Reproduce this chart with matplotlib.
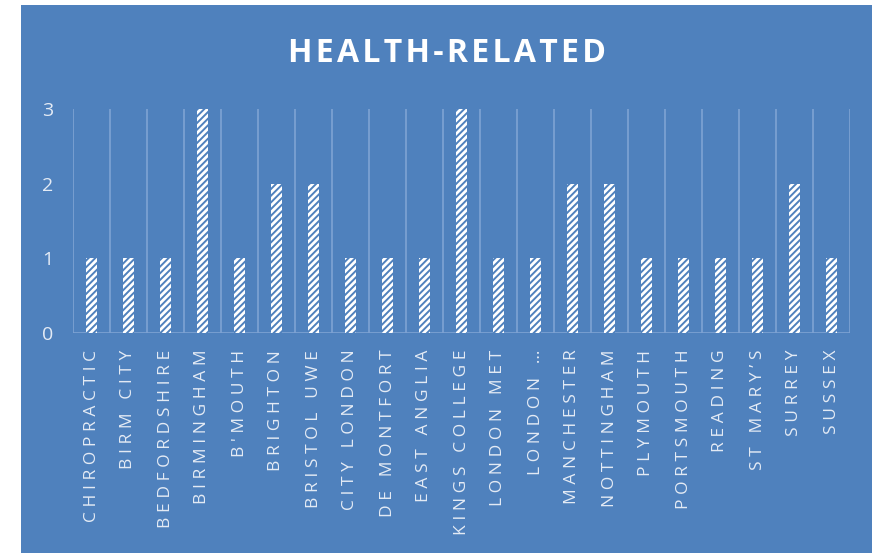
import matplotlib.pyplot as plt
from matplotlib.patches import Rectangle

# ---------------------- DATA ----------------------

schools = ['CHIROPRACTIC', 'BIRM CITY', 'BEDFORDSHIRE', 'BIRMINGHAM', "B'MOUTH",
           'BRIGHTON', 'BRISTOL UWE', 'CITY LONDON', 'DE MONTFORT', 'EAST ANGLIA',
           'KINGS COLLEGE', 'LONDON MET', 'LONDON …', 'MANCHESTER', 'NOTTINGHAM',
           'PLYMOUTH', 'PORTSMOUTH', 'READING', 'ST MARY\u2019S', 'SURREY', 'SUSSEX']
counts = [1, 1, 1, 3, 1, 2, 2, 1, 1, 1, 3, 1, 1, 2, 2, 1, 1, 1, 1, 2, 1]
y_ticks = [0, 1, 2, 3]

BG = '#4F81BD'
GRID = '#7FA3D3'
TXT = '#E4EBF5'

plt.rcParams['hatch.linewidth'] = 1.4


def spaced(s, sep='\u2009'):
    return sep.join(s)


# ---------------------- CHART ----------------------

fig = plt.figure(figsize=(8.72, 5.53), dpi=100, facecolor='white')
fig.patches.append(Rectangle((21 / 872, 0), 1, 1 - 5 / 553, transform=fig.transFigure,
                             facecolor=BG, edgecolor='none', zorder=-10))

ax = fig.add_axes([73 / 872, 1 - 333 / 553, 777 / 872, 224 / 553])
ax.set_facecolor('none')

x = range(len(schools))
ax.bar(x, counts, width=0.28, facecolor='white', edgecolor=BG, hatch='/////',
       linewidth=0, zorder=3)

ax.set_xlim(-0.5, len(schools) - 0.5)
ax.set_ylim(0, 3)

# vertical separators between categories
for b in range(len(schools) + 1):
    ax.axvline(b - 0.5, color=GRID, linewidth=1.2, zorder=1)
ax.axhline(0, color=GRID, linewidth=1.2, zorder=2)

for s in ax.spines.values():
    s.set_visible(False)

ax.set_xticks(list(x))
ax.set_xticklabels([spaced(s, '\u2009\u200a') for s in schools], rotation=90,
                   family=['Open Sans', 'DejaVu Sans'], fontsize=12.5, color=TXT)
ax.tick_params(axis='x', length=0, pad=12)

ax.set_yticks(y_ticks)
ax.set_yticklabels([str(t) for t in y_ticks], family=['Open Sans', 'DejaVu Sans'],
                   fontsize=14, color=TXT)
ax.tick_params(axis='y', length=0, pad=14)

fig.text(447 / 872, 1 - 54 / 553, spaced('HEALTH-RELATED', '\u200a'), ha='center',
         va='center', family=['Open Sans', 'DejaVu Sans'], fontsize=23,
         fontweight='bold', color='white')

plt.savefig('out.png', dpi=100, facecolor='white')
